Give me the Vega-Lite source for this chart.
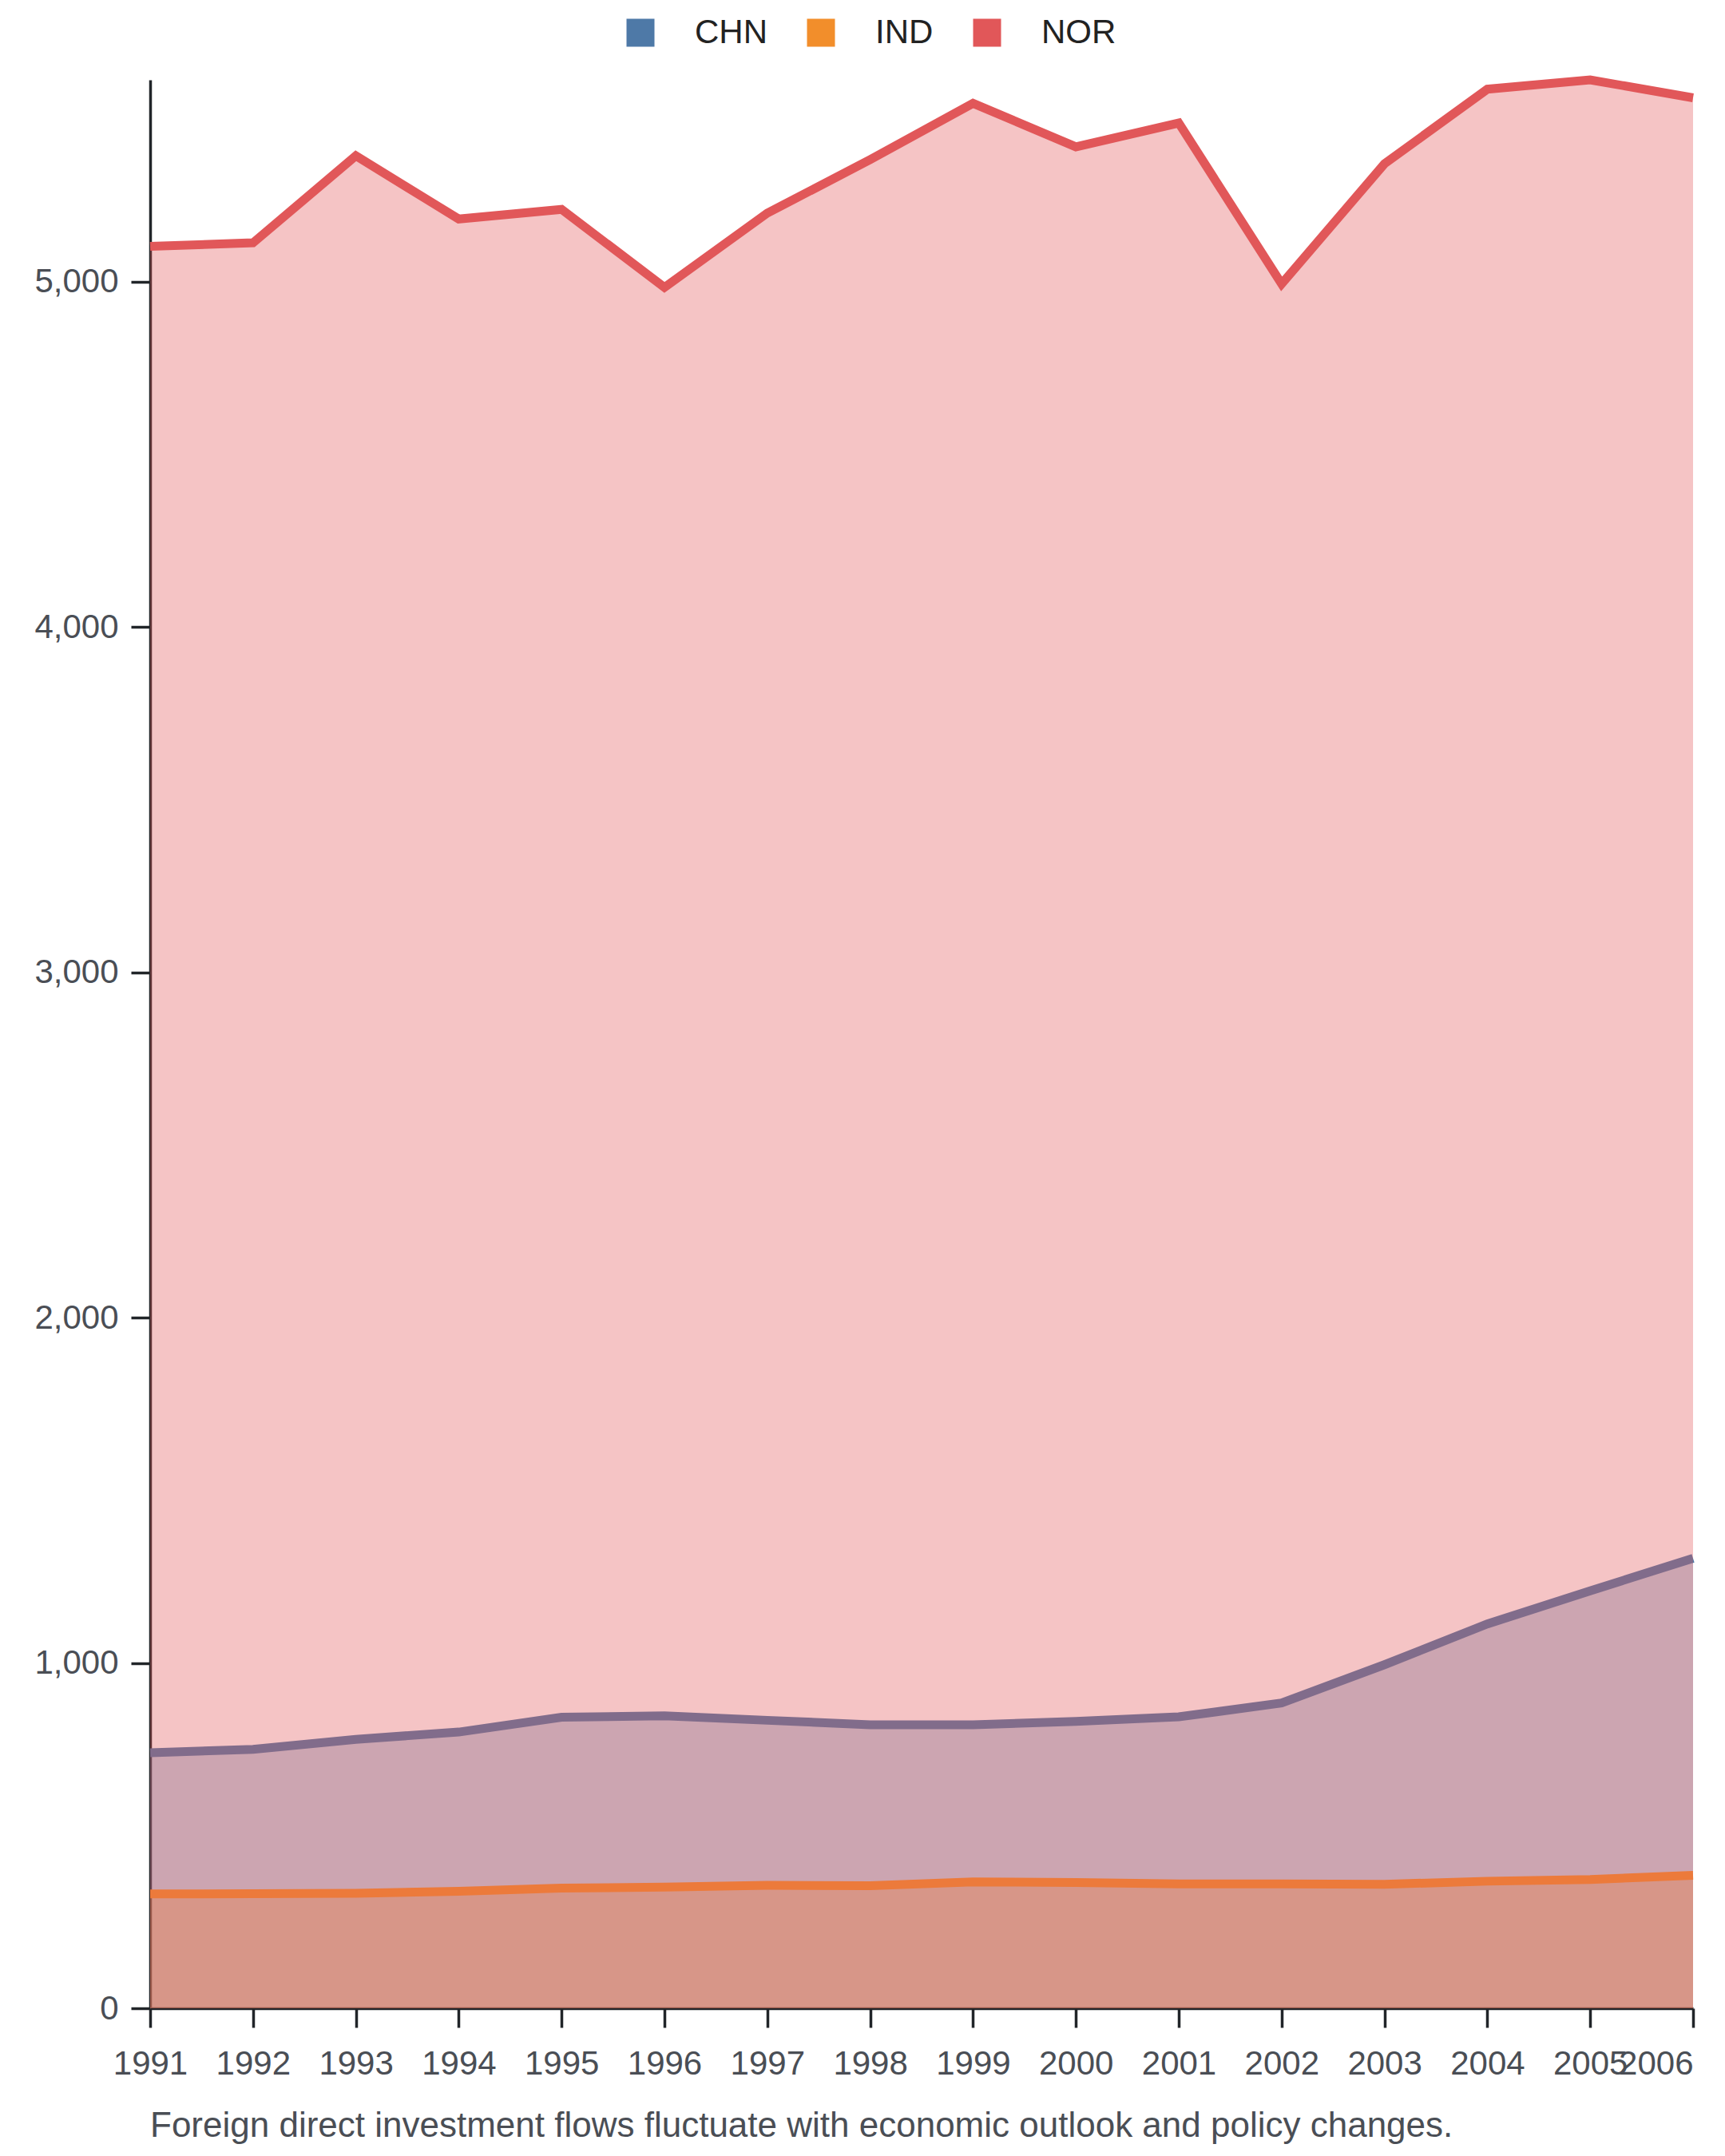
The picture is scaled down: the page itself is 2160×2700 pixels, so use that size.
{
  "$schema": "https://vega.github.io/schema/vega-lite/v6.json",
  "description": "Foreign direct investment, CHN / IND / NOR, 1991-2006, overlapping areas.",
  "autosize": {"type": "none"},
  "padding": {"left": 188, "top": 100, "right": 40, "bottom": 185},
  "width": 1932,
  "height": 2415,
  "background": "white",
  "data": {
    "values": [
      {"year": 1991, "country": "CHN", "fdi": 740},
      {"year": 1992, "country": "CHN", "fdi": 750},
      {"year": 1993, "country": "CHN", "fdi": 779},
      {"year": 1994, "country": "CHN", "fdi": 800},
      {"year": 1995, "country": "CHN", "fdi": 843},
      {"year": 1996, "country": "CHN", "fdi": 847},
      {"year": 1997, "country": "CHN", "fdi": 834},
      {"year": 1998, "country": "CHN", "fdi": 821},
      {"year": 1999, "country": "CHN", "fdi": 821},
      {"year": 2000, "country": "CHN", "fdi": 831},
      {"year": 2001, "country": "CHN", "fdi": 844},
      {"year": 2002, "country": "CHN", "fdi": 884},
      {"year": 2003, "country": "CHN", "fdi": 995},
      {"year": 2004, "country": "CHN", "fdi": 1113},
      {"year": 2005, "country": "CHN", "fdi": 1209},
      {"year": 2006, "country": "CHN", "fdi": 1303},
      {"year": 1991, "country": "IND", "fdi": 331},
      {"year": 1992, "country": "IND", "fdi": 332},
      {"year": 1993, "country": "IND", "fdi": 333},
      {"year": 1994, "country": "IND", "fdi": 339},
      {"year": 1995, "country": "IND", "fdi": 348},
      {"year": 1996, "country": "IND", "fdi": 351},
      {"year": 1997, "country": "IND", "fdi": 356},
      {"year": 1998, "country": "IND", "fdi": 355},
      {"year": 1999, "country": "IND", "fdi": 366},
      {"year": 2000, "country": "IND", "fdi": 364},
      {"year": 2001, "country": "IND", "fdi": 360},
      {"year": 2002, "country": "IND", "fdi": 360},
      {"year": 2003, "country": "IND", "fdi": 359},
      {"year": 2004, "country": "IND", "fdi": 368},
      {"year": 2005, "country": "IND", "fdi": 373},
      {"year": 2006, "country": "IND", "fdi": 385},
      {"year": 1991, "country": "NOR", "fdi": 5103},
      {"year": 1992, "country": "NOR", "fdi": 5113},
      {"year": 1993, "country": "NOR", "fdi": 5365},
      {"year": 1994, "country": "NOR", "fdi": 5182},
      {"year": 1995, "country": "NOR", "fdi": 5210},
      {"year": 1996, "country": "NOR", "fdi": 4984},
      {"year": 1997, "country": "NOR", "fdi": 5199},
      {"year": 1998, "country": "NOR", "fdi": 5354},
      {"year": 1999, "country": "NOR", "fdi": 5517},
      {"year": 2000, "country": "NOR", "fdi": 5391},
      {"year": 2001, "country": "NOR", "fdi": 5460},
      {"year": 2002, "country": "NOR", "fdi": 4994},
      {"year": 2003, "country": "NOR", "fdi": 5342},
      {"year": 2004, "country": "NOR", "fdi": 5558},
      {"year": 2005, "country": "NOR", "fdi": 5585},
      {"year": 2006, "country": "NOR", "fdi": 5533}
    ]
  },
  "title": {
    "text": "Foreign direct investment flows fluctuate with economic outlook and policy changes.",
    "orient": "bottom",
    "anchor": "start",
    "frame": "group",
    "offset": 36,
    "fontSize": 44,
    "fontWeight": "normal",
    "color": "#4a4e55"
  },
  "encoding": {
    "x": {
      "field": "year",
      "type": "ordinal",
      "scale": {"type": "point", "padding": 0},
      "axis": {
        "title": null,
        "labelAngle": 0,
        "labelAlign": {"condition": {"test": "datum.label == '2006'", "value": "right"}, "value": "center"},
        "labelPadding": 25
      }
    },
    "y": {
      "field": "fdi",
      "type": "quantitative",
      "scale": {"nice": false, "zero": true},
      "axis": {
        "title": null,
        "values": [0, 1000, 2000, 3000, 4000, 5000],
        "format": ",.0f",
        "grid": false,
        "labelPadding": 16
      }
    },
    "color": {
      "field": "country",
      "type": "nominal",
      "scale": {"domain": ["CHN", "IND", "NOR"], "range": ["#4e79a7", "#f28e2b", "#e15759"]},
      "legend": {
        "title": null,
        "orient": "none",
        "direction": "horizontal",
        "legendX": 593,
        "legendY": -80,
        "symbolType": "square",
        "symbolSize": 1225,
        "symbolOpacity": 1,
        "symbolStrokeWidth": 0,
        "labelFontSize": 42,
        "labelColor": "#222222",
        "labelOffset": 47,
        "columnPadding": 46,
        "padding": 0
      }
    }
  },
  "layer": [
    {"transform": [{"filter": "datum.country == 'CHN'"}], "mark": {"type": "area", "opacity": 0.35}},
    {"transform": [{"filter": "datum.country == 'CHN'"}], "mark": {"type": "line", "strokeWidth": 11}},
    {"transform": [{"filter": "datum.country == 'IND'"}], "mark": {"type": "area", "opacity": 0.35}},
    {"transform": [{"filter": "datum.country == 'IND'"}], "mark": {"type": "line", "strokeWidth": 11}},
    {"transform": [{"filter": "datum.country == 'NOR'"}], "mark": {"type": "area", "opacity": 0.35}},
    {"transform": [{"filter": "datum.country == 'NOR'"}], "mark": {"type": "line", "strokeWidth": 11}}
  ],
  "config": {
    "font": "Liberation Sans",
    "view": {"stroke": null},
    "axis": {
      "labelFontSize": 42,
      "labelColor": "#4a4e55",
      "domainColor": "#212529",
      "domainWidth": 3.5,
      "tickColor": "#212529",
      "tickWidth": 3.5,
      "tickSize": 24
    }
  }
}
